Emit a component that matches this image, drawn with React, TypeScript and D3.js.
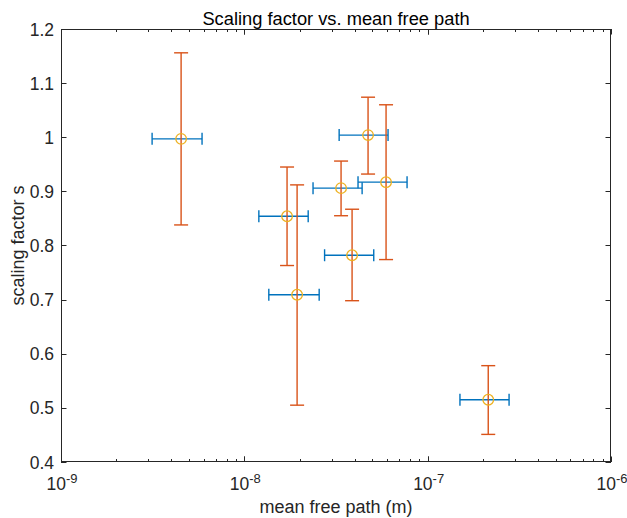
import React, { useEffect, useRef } from "react";
import * as d3 from "d3";

// mean free path (m) and its lower/upper error bounds
const mfp = [4.52e-9, 1.71e-8, 1.94e-8, 3.37e-8, 3.87e-8, 4.73e-8, 5.93e-8, 2.14e-7];
const mfpLow = [3.14e-9, 1.2e-8, 1.36e-8, 2.37e-8, 2.74e-8, 3.29e-8, 4.17e-8, 1.5e-7];
const mfpHigh = [5.88e-9, 2.23e-8, 2.56e-8, 4.39e-8, 5.08e-8, 6.08e-8, 7.72e-8, 2.78e-7];

// scaling factor s and its lower/upper error bounds
const s = [0.997, 0.854, 0.709, 0.906, 0.782, 1.004, 0.917, 0.515];
const sLow = [0.838, 0.763, 0.505, 0.855, 0.698, 0.932, 0.774, 0.451];
const sHigh = [1.156, 0.945, 0.912, 0.956, 0.867, 1.074, 1.06, 0.578];

const yTicks = [0.4, 0.5, 0.6, 0.7, 0.8, 0.9, 1, 1.1, 1.2];
const xExponents = [-9, -8, -7, -6];

const App = () => {
  const svgRef = useRef(null);

  useEffect(() => {
    const width = 627;
    const height = 518;
    const left = 61;
    const right = 611;
    const top = 29;
    const bottom = 462;
    const axisColor = "#262626";
    const font = "Arial, 'Liberation Sans', Helvetica, sans-serif";

    const svg = d3.select(svgRef.current);
    svg.selectAll("*").remove();
    svg.attr("width", width).attr("height", height).style("display", "block");

    const x = d3.scaleLog().domain([1e-9, 1e-6]).range([left, right]);
    const y = d3.scaleLinear().domain([0.4, 1.2]).range([bottom, top]);

    // plot background
    svg.append("rect").attr("x", left).attr("y", top).attr("width", right - left).attr("height", bottom - top).attr("fill", "#fff");

    // ticks (inward, on both sides)
    const ticks = svg.append("g").attr("stroke", axisColor).attr("stroke-width", 1);
    yTicks.forEach((t) => {
      const py = Math.round(y(t)) + 0.5;
      ticks.append("line").attr("x1", left).attr("x2", left + 5.5).attr("y1", py).attr("y2", py);
      ticks.append("line").attr("x1", right).attr("x2", right - 5.5).attr("y1", py).attr("y2", py);
    });
    for (let e = -9; e < -6; e++) {
      for (let m = 1; m <= 10; m++) {
        const v = m * Math.pow(10, e);
        const px = Math.round(x(v)) + 0.5;
        const len = m === 1 || m === 10 ? 5.5 : 3;
        ticks.append("line").attr("x1", px).attr("x2", px).attr("y1", bottom).attr("y2", bottom - len);
        ticks.append("line").attr("x1", px).attr("x2", px).attr("y1", top).attr("y2", top + len);
      }
    }

    // axes box
    svg
      .append("rect")
      .attr("x", left + 0.5)
      .attr("y", top + 0.5)
      .attr("width", right - left - 1)
      .attr("height", bottom - top - 1)
      .attr("fill", "none")
      .attr("stroke", axisColor)
      .attr("stroke-width", 1);

    // y tick labels
    svg
      .append("g")
      .selectAll("text")
      .data(yTicks)
      .enter()
      .append("text")
      .attr("x", left - 7)
      .attr("y", (d) => y(d) + 6.5)
      .attr("text-anchor", "end")
      .attr("font-family", font)
      .attr("font-size", 17.5)
      .attr("fill", axisColor)
      .text((d) => String(d));

    // x tick labels 10^e
    const xl = svg
      .append("g")
      .selectAll("text")
      .data(xExponents)
      .enter()
      .append("text")
      .attr("x", (d) => x(Math.pow(10, d)) + 1)
      .attr("y", 490)
      .attr("text-anchor", "middle")
      .attr("font-family", font)
      .attr("font-size", 17.5)
      .attr("fill", axisColor);
    xl.append("tspan").text("10");
    xl.append("tspan").attr("dy", -7).attr("font-size", 13).text((d) => String(d));

    // horizontal error bars
    const capH = 6;
    const hb = svg.append("g").attr("stroke", "#0072BD").attr("stroke-width", 1.4).attr("fill", "none");
    mfp.forEach((m, i) => {
      const py = y(s[i]);
      const x0 = x(mfpLow[i]);
      const x1 = x(mfpHigh[i]);
      hb.append("line").attr("x1", x0).attr("x2", x1).attr("y1", py).attr("y2", py);
      hb.append("line").attr("x1", x0).attr("x2", x0).attr("y1", py - capH).attr("y2", py + capH);
      hb.append("line").attr("x1", x1).attr("x2", x1).attr("y1", py - capH).attr("y2", py + capH);
    });

    // vertical error bars
    const capW = 7;
    const vb = svg.append("g").attr("stroke", "#D95319").attr("stroke-width", 1.4).attr("fill", "none");
    mfp.forEach((m, i) => {
      const px = x(m);
      const y0 = y(sLow[i]);
      const y1 = y(sHigh[i]);
      vb.append("line").attr("x1", px).attr("x2", px).attr("y1", y0).attr("y2", y1);
      vb.append("line").attr("x1", px - capW).attr("x2", px + capW).attr("y1", y0).attr("y2", y0);
      vb.append("line").attr("x1", px - capW).attr("x2", px + capW).attr("y1", y1).attr("y2", y1);
    });

    // markers
    svg
      .append("g")
      .selectAll("circle")
      .data(mfp)
      .enter()
      .append("circle")
      .attr("cx", (d) => x(d))
      .attr("cy", (d, i) => y(s[i]))
      .attr("r", 5.3)
      .attr("fill", "none")
      .attr("stroke", "#EDB120")
      .attr("stroke-width", 1.3);

    // title and axis labels
    svg
      .append("text")
      .attr("x", (left + right) / 2)
      .attr("y", 25)
      .attr("text-anchor", "middle")
      .attr("font-family", font)
      .attr("font-size", 18.3)
      .attr("fill", "#000")
      .text("Scaling factor vs. mean free path");

    svg
      .append("text")
      .attr("x", (left + right) / 2)
      .attr("y", 513)
      .attr("text-anchor", "middle")
      .attr("font-family", font)
      .attr("font-size", 18)
      .attr("fill", axisColor)
      .text("mean free path (m)");

    svg
      .append("text")
      .attr("transform", `translate(24, ${(top + bottom) / 2}) rotate(-90)`)
      .attr("text-anchor", "middle")
      .attr("font-family", font)
      .attr("font-size", 18)
      .attr("fill", axisColor)
      .text("scaling factor s");
  }, []);

  return (
    <div style={{ position: "absolute", left: 0, top: 0 }}>
      <svg ref={svgRef}></svg>
    </div>
  );
};

export default App;
